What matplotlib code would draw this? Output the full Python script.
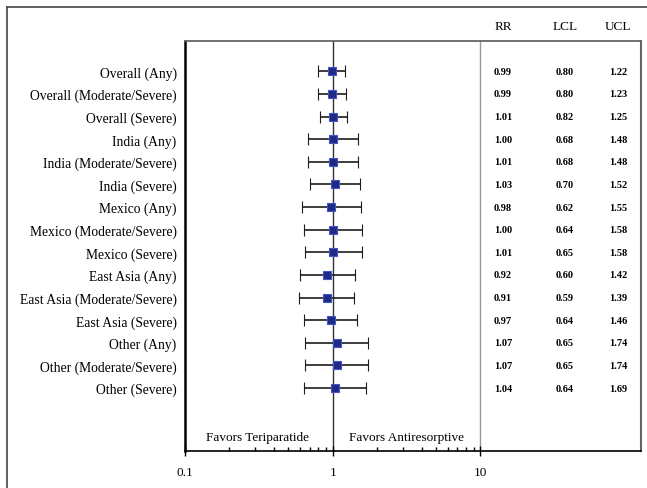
import numpy as np
import matplotlib
matplotlib.use("Agg")
import matplotlib.pyplot as plt
import matplotlib.transforms as mtransforms
from matplotlib.lines import Line2D

# Forest plot data (risk ratio with 95% confidence limits)
labels = ["Overall (Any)", "Overall (Moderate/Severe)", "Overall (Severe)",
          "India (Any)", "India (Moderate/Severe)", "India (Severe)",
          "Mexico (Any)", "Mexico (Moderate/Severe)", "Mexico (Severe)",
          "East Asia (Any)", "East Asia (Moderate/Severe)", "East Asia (Severe)",
          "Other (Any)", "Other (Moderate/Severe)", "Other (Severe)"]
rr = [0.99, 0.99, 1.01, 1.00, 1.01, 1.03, 0.98, 1.00, 1.01, 0.92, 0.91, 0.97, 1.07, 1.07, 1.04]
lcl = [0.80, 0.80, 0.82, 0.68, 0.68, 0.70, 0.62, 0.64, 0.65, 0.60, 0.59, 0.64, 0.65, 0.65, 0.64]
ucl = [1.22, 1.23, 1.25, 1.48, 1.48, 1.52, 1.55, 1.58, 1.58, 1.42, 1.39, 1.46, 1.74, 1.74, 1.69]
col_names = ["RR", "LCL", "UCL"]

plt.rcParams['font.family'] = ['Liberation Serif', 'DejaVu Serif']

fig = plt.figure(figsize=(6.47, 4.89), dpi=100)
ax = fig.add_axes([0.286, 0.0757, 0.705, 0.838])

rr = np.array(rr)
lcl = np.array(lcl)
ucl = np.array(ucl)
ypos = np.arange(1, len(labels) + 1)

ax.errorbar(rr, ypos, xerr=[rr - lcl, ucl - rr], fmt='s', color='#1c1c1c',
            ecolor='#1c1c1c', elinewidth=1.2, capsize=4, capthick=1.2,
            markersize=5.8, markerfacecolor='#1f2a85', markeredgecolor='#4455c8',
            markeredgewidth=0.8, zorder=3)

ax.axvline(1, color='#333333', linewidth=1.0, zorder=1)
ax.axvline(10, color='#999999', linewidth=1.0, zorder=1)

ax.set_xscale('log')
ax.set_xlim(0.1, 123)
ax.set_ylim(17.78, -0.33)

ax.set_yticks(ypos)
ax.set_yticklabels(labels, fontsize=9.8)
ax.tick_params(axis='y', length=0, pad=6)

ax.set_xticks([0.1, 1, 10])
ax.set_xticklabels(["0.1", "1", "10"], fontsize=9.5)
minor = [0.2, 0.3, 0.4, 0.5, 0.6, 0.7, 0.8, 0.9, 2, 3, 4, 5, 6, 7, 8, 9]
ax.set_xticks(minor, minor=True)
ax.set_xticklabels([], minor=True)
ax.tick_params(axis='x', which='major', direction='inout', length=7, width=1, pad=7)
ax.tick_params(axis='x', which='minor', direction='in', length=3, width=1)

ax.spines['left'].set_linewidth(1.8)
ax.spines['bottom'].set_linewidth(1.2)
ax.spines['top'].set_color('#666666')
ax.spines['right'].set_color('#666666')
ax.spines['top'].set_linewidth(1.3)
ax.spines['right'].set_linewidth(1.5)

# table of estimates on the right
col_x = [0.697, 0.833, 0.950]
for cx, name in zip(col_x, col_names):
    ax.text(cx, 1.037, name, transform=ax.transAxes, ha='center', va='center', fontsize=9.5)
tab_trans = mtransforms.blended_transform_factory(ax.transAxes, ax.transData)
for i, y in enumerate(ypos):
    for cx, v in zip(col_x, [rr[i], lcl[i], ucl[i]]):
        ax.text(cx, y, f"{v:.2f}", transform=tab_trans,
                ha='center', va='center', fontsize=7.5, fontweight='bold')

ax.text(0.308, 17.15, "Favors Teriparatide", ha='center', va='center', fontsize=9.5)
ax.text(3.15, 17.15, "Favors Antiresorptive", ha='center', va='center', fontsize=9.5)

# outer frame of the figure
fig.add_artist(Line2D([7 / 647, 1], [1 - 8 / 489, 1 - 8 / 489], color='#444444', linewidth=1.2))
fig.add_artist(Line2D([7 / 647, 7 / 647], [0, 1 - 8 / 489], color='#444444', linewidth=1.2))

fig.savefig('out.png', dpi=100)
